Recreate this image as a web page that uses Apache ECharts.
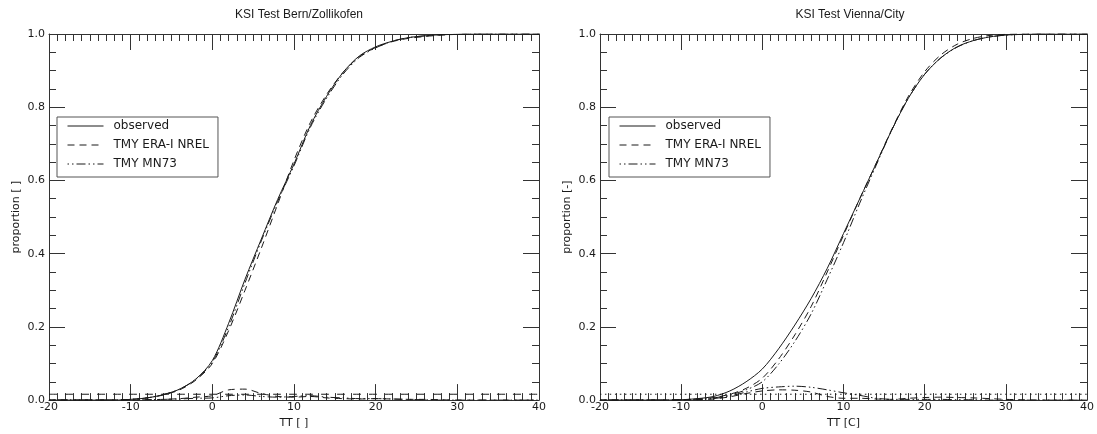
<!DOCTYPE html>
<html>
<head>
<meta charset="utf-8">
<script src="https://cdn.jsdelivr.net/npm/echarts@6/dist/echarts.min.js"></script>
<style>html,body{margin:0;padding:0;background:#fff}#c{width:1097px;height:434px}</style>
</head>
<body>
<div id="c"></div>
<script>
// x positions (TT) at which the curves are read
const xs = [-20,-12,-10,-8,-6,-4,-2,0,2,4,6,8,10,12,14,16,18,20,22,24,26,28,30,32,34,36,40];

// Bern/Zollikofen
const bernObserved = [0,0,0.002,0.006,0.015,0.03,0.058,0.108,0.21,0.33,0.44,0.548,0.645,0.75,0.83,0.895,0.94,0.965,0.98,0.99,0.995,0.998,0.999,1,1,1,1];
const bernEra      = [0,0,0.002,0.006,0.014,0.028,0.055,0.1,0.19,0.3,0.415,0.535,0.655,0.758,0.835,0.895,0.938,0.963,0.979,0.988,0.993,0.997,0.999,1,1,1,1];
const bernMn73     = [0,0,0.002,0.006,0.015,0.03,0.057,0.104,0.2,0.32,0.435,0.543,0.64,0.745,0.825,0.89,0.936,0.962,0.98,0.99,0.995,0.998,0.999,1,1,1,1];
const bernCrit     = [0.016,0.016,0.016,0.016,0.016,0.016,0.016,0.016,0.016,0.016,0.016,0.016,0.016,0.016,0.016,0.016,0.016,0.016,0.016,0.016,0.016,0.016,0.016,0.016,0.016,0.016,0.016];
const bernDiffEra  = [0,0,0,0.001,0.002,0.004,0.008,0.012,0.028,0.03,0.018,0.01,0.008,0.01,0.006,0.004,0.003,0.004,0.003,0.002,0.002,0.001,0,0,0,0,0];
const bernDiffMn73 = [0,0,0,0.001,0.002,0.003,0.005,0.006,0.012,0.014,0.01,0.008,0.01,0.012,0.008,0.006,0.004,0.004,0.003,0.002,0.001,0,0,0,0,0,0];

// Vienna/City
const viennaObserved = [0,0,0.001,0.004,0.01,0.025,0.05,0.085,0.14,0.205,0.277,0.36,0.455,0.55,0.645,0.74,0.825,0.89,0.935,0.965,0.982,0.992,0.997,0.999,1,1,1];
const viennaEra      = [0,0,0.001,0.003,0.007,0.016,0.032,0.06,0.112,0.178,0.255,0.35,0.45,0.55,0.645,0.742,0.83,0.897,0.943,0.972,0.988,0.996,0.999,1,1,1,1];
const viennaMn73     = [0,0,0.001,0.003,0.006,0.014,0.028,0.05,0.098,0.16,0.235,0.33,0.43,0.538,0.64,0.74,0.825,0.89,0.935,0.964,0.982,0.992,0.997,0.999,1,1,1];
const viennaCrit     = [0.016,0.016,0.016,0.016,0.016,0.016,0.016,0.016,0.016,0.016,0.016,0.016,0.016,0.016,0.016,0.016,0.016,0.016,0.016,0.016,0.016,0.016,0.016,0.016,0.016,0.016,0.016];
const viennaDiffEra  = [0,0,0,0.001,0.003,0.009,0.018,0.025,0.028,0.027,0.022,0.01,0.005,0.005,0.003,0.002,0.005,0.007,0.008,0.007,0.006,0.004,0.002,0.001,0,0,0];
const viennaDiffMn73 = [0,0,0,0.001,0.004,0.011,0.022,0.032,0.036,0.038,0.035,0.028,0.02,0.013,0.005,0.002,0.002,0.002,0.002,0.001,0.001,0,0,0,0,0,0];

const titles = ['KSI Test Bern/Zollikofen', 'KSI Test Vienna/City'];
const yNames = ['proportion [ ]', 'proportion [-]'];
const xNames = ['TT [ ]', 'TT [C]'];
const legendNames = ['observed', 'TMY ERA-I NREL', 'TMY MN73'];
const xTicks = {min: -20, max: 40, interval: 10};
const yTicks = {min: 0, max: 1, interval: 0.2};

const pair = arr => xs.map((x, i) => [x, arr[i]]);
const ink = '#1a1a1a';
const solid = 'solid', dashed = [7, 5], dashDot = [1.5, 3, 1.5, 3, 9, 3], dotted = [1.5, 3.5];

const grids = [
  {left: 49, width: 490, top: 34, height: 371},
  {left: 600, width: 490, top: 34, height: 371}
];

const lineC = {show: true, onZero: false, lineStyle: {color: '#333', width: 1}};
const xAxes = [], yAxes = [];
[0, 1].forEach(g => {
  xAxes.push({
    type: 'value', gridIndex: g, min: xTicks.min, max: xTicks.max, interval: xTicks.interval,
    position: 'bottom', name: xNames[g], nameLocation: 'middle', nameGap: 16,
    nameTextStyle: {color: ink, fontSize: 11, fontFamily: 'DejaVu Sans'},
    axisLine: lineC,
    axisTick: {show: true, inside: true, length: 16, lineStyle: {color: '#333'}},
    minorTick: {show: true, splitNumber: 10, length: 7, lineStyle: {color: '#333'}},
    axisLabel: {color: ink, fontSize: 11, fontFamily: 'DejaVu Sans', margin: 2},
    splitLine: {show: false}
  });
  xAxes.push({
    type: 'value', gridIndex: g, min: xTicks.min, max: xTicks.max, interval: xTicks.interval,
    position: 'top',
    axisLine: lineC,
    axisTick: {show: true, inside: true, length: 16, lineStyle: {color: '#333'}},
    minorTick: {show: true, splitNumber: 10, length: 7, lineStyle: {color: '#333'}},
    axisLabel: {show: false}, splitLine: {show: false}
  });
  yAxes.push({
    type: 'value', gridIndex: g, min: yTicks.min, max: yTicks.max, interval: yTicks.interval,
    position: 'left', name: yNames[g], nameLocation: 'middle', nameGap: 27,
    nameTextStyle: {color: ink, fontSize: 11, fontFamily: 'DejaVu Sans'},
    axisLine: lineC,
    axisTick: {show: true, inside: true, length: 16, lineStyle: {color: '#333'}},
    minorTick: {show: true, splitNumber: 4, length: 7, lineStyle: {color: '#333'}},
    axisLabel: {color: ink, fontSize: 11, fontFamily: 'DejaVu Sans', margin: 4, formatter: v => v.toFixed(1)},
    splitLine: {show: false}
  });
  yAxes.push({
    type: 'value', gridIndex: g, min: yTicks.min, max: yTicks.max, interval: yTicks.interval,
    position: 'right',
    axisLine: lineC,
    axisTick: {show: true, inside: true, length: 16, lineStyle: {color: '#333'}},
    minorTick: {show: true, splitNumber: 4, length: 7, lineStyle: {color: '#333'}},
    axisLabel: {show: false}, splitLine: {show: false}
  });
});

function line(name, data, g, type, z) {
  return {
    name: name, type: 'line', xAxisIndex: g * 2, yAxisIndex: g * 2, data: pair(data),
    symbol: 'none', smooth: 0.3, silent: true, z: z || 2,
    itemStyle: {color: ink},
    lineStyle: {color: ink, width: 1, type: type}
  };
}

const series = [
  line('observed', bernObserved, 0, solid, 3),
  line('TMY ERA-I NREL', bernEra, 0, dashed),
  line('TMY MN73', bernMn73, 0, dashDot),
  line('crit', bernCrit, 0, [8, 8]),
  line('dEra', bernDiffEra, 0, dashed),
  line('dMn', bernDiffMn73, 0, dashDot),
  line('observed', viennaObserved, 1, solid, 3),
  line('TMY ERA-I NREL', viennaEra, 1, dashed),
  line('TMY MN73', viennaMn73, 1, dashDot),
  line('crit', viennaCrit, 1, dotted),
  line('dEra', viennaDiffEra, 1, dashed),
  line('dMn', viennaDiffMn73, 1, dashDot)
];

function legend(left) {
  return {
    data: legendNames, orient: 'vertical', left: left, top: 117,
    itemWidth: 36, itemHeight: 12, itemGap: 7, padding: [3, 9, 7, 10],
    borderColor: '#555', borderWidth: 1, backgroundColor: '#fff',
    selectedMode: false,
    itemStyle: {opacity: 0},
    lineStyle: {color: ink, width: 1},
    textStyle: {color: ink, fontSize: 12, fontFamily: 'DejaVu Sans', padding: [0, 0, 0, 5]}
  };
}

const chart = echarts.init(document.getElementById('c'), null, {renderer: 'canvas'});
chart.setOption({
  animation: false,
  backgroundColor: '#fff',
  title: [
    {text: titles[0], left: 294, top: 4, textAlign: 'center', textStyle: {color: ink, fontSize: 12, fontWeight: 'normal', fontFamily: 'Liberation Sans'}},
    {text: titles[1], left: 845, top: 4, textAlign: 'center', textStyle: {color: ink, fontSize: 12, fontWeight: 'normal', fontFamily: 'Liberation Sans'}}
  ],
  legend: [legend(57), legend(609)],
  grid: grids,
  xAxis: xAxes,
  yAxis: yAxes,
  series: series
});
</script>
</body>
</html>
